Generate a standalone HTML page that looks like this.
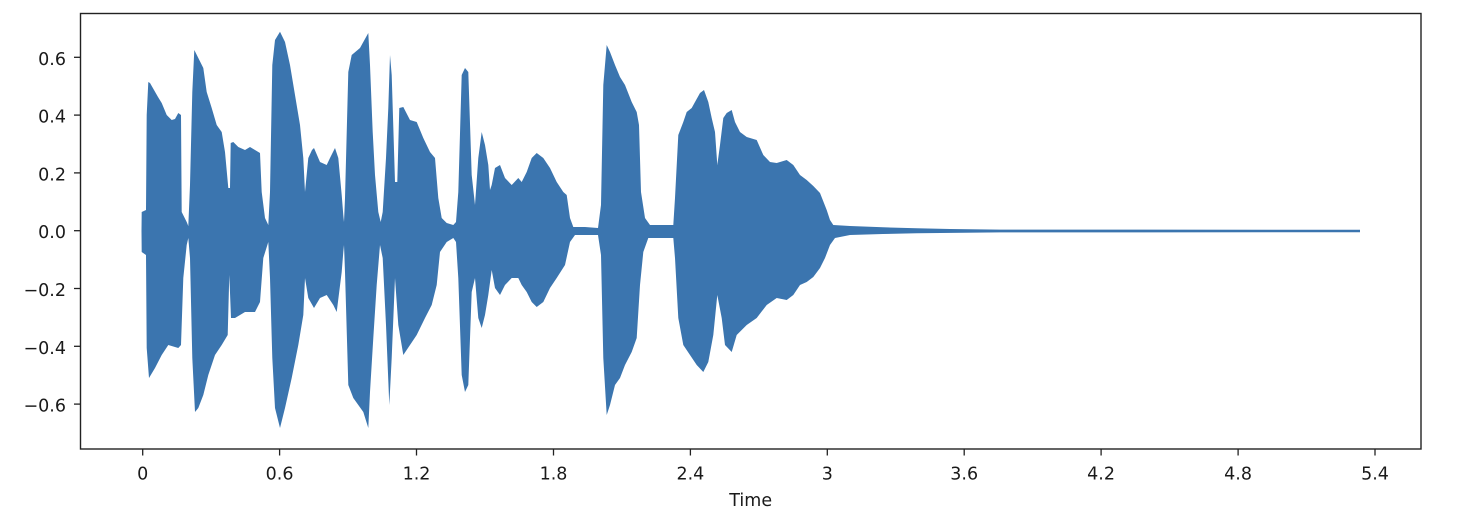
<!DOCTYPE html>
<html>
<head>
<meta charset="utf-8">
<style>
  html, body { margin: 0; padding: 0; background: #ffffff; }
  body { width: 1462px; height: 532px; overflow: hidden; }
  svg { display: block; }
  text { font-family: "DejaVu Sans", "Liberation Sans", sans-serif; font-size: 17.5px; fill: #1a1a1a; }
</style>
</head>
<body>
<svg width="1462" height="532" viewBox="0 0 1462 532" xmlns="http://www.w3.org/2000/svg">
  <rect x="0" y="0" width="1462" height="532" fill="#ffffff"/>

  <!-- waveform upper half -->
  <polygon fill="#3b75af" points="141.5,231 141.7,212 146,210 146.7,115 148.3,82 150,83 155,91.7 158,97 161.7,103 166.7,115 171.7,120 175,119 178.3,113 181,115 181.7,212 186.7,222 188.3,226 190,185 192.3,92 194.3,50 198.3,58 203.3,68 206.7,92 211.7,108 216.7,125 221.7,132 225,152 228.3,188 230,188 230.7,143 233.3,142 238.3,147 245,150 250,147 255,150 260,153 261.7,192 265,218 268.3,225 270,192 272.3,65 275,40 280,31.7 285,42 290,65 295,95 300,125 303.3,158 305,192 308.3,158 312,150 314,148 320,162 326.7,165 330,158 335,148 338.3,158 341.7,195 343.3,215 344,222 345,198 348.3,72 351.7,55 360,48 363.3,42 368.3,33 370,65 372.7,132 375,175 378.3,212 380.7,222 382.7,212 386,158 388.3,108 390,55 391.7,75 395,182 397.3,182 399.3,108 403.3,107 410,120 416.7,122 423.3,138 430,152 435,158 438.3,198 441.7,218 446.7,223 453.3,225 456,222 458.3,192 461.7,75 465,68 468.3,72 471.7,175 475,205 478.3,158 481.7,132 485,145 488.3,165 490,190 491.7,185 495,168 500,165 505,178 511.7,185 518.3,178 521.7,182 526.7,172 531.7,158 536.7,153 543.3,158 550,168 556.7,182 563.3,192 566.7,195 570,218 573.3,227 585,227 598,228 601,205 603.3,85 606.7,45 610,52 615,65 620,77 625,85 631.7,102 636.7,112 639,125 641,192 645,218 650,225 673.3,225 675,198 678.3,135 683.3,122 686.7,112 691.7,108 695,102 700,93 704,90 708.3,102 711.7,118 715,132 717.3,165 720,145 723.3,118 726.7,113 731.7,110 735,122 740,132 746.7,137 756.7,140 763.3,155 770,162 776.7,163 786.7,160 793.3,165 800,175 806.7,180 813.3,186 820,193 826.7,210 830,220 833.3,225 850,226 883,227.3 916.7,228.3 950,229 1000,229.6 1360,229.8 1360,231.5 141.5,231.5"/>

  <!-- waveform lower half -->
  <polygon fill="#3b75af" points="141.5,231 141.7,252 146,255 146.7,348 149,378 155,368 161.7,355 168.3,345 178.3,348 181,345 183.3,278 186.7,245 188.3,238 190,258 192.3,358 195,412 198.3,408 203.3,395 208.3,375 215,355 221.7,345 227.7,335 229.3,275 231,318 235,318 245,312 255,312 260,302 263.3,258 268.3,242 270,278 272.3,358 275,408 280,428 285,408 291.7,378 298.3,345 303.3,315 305,278 308.3,298 314,308 320,298 326.7,295 333.3,305 336.7,312 341.7,272 343.3,252 344,245 345,272 348.3,385 353.3,398 363.3,412 368.3,428 370,392 373.3,338 376.7,285 380,245 382.7,258 386,325 389.3,405 391.7,358 395,278 398.3,325 403.3,355 410,345 416.7,335 425,318 431.7,305 436.7,285 440,252 446.7,242 453.3,238 456,242 458.3,278 461.7,375 465,392 468.3,385 471.7,292 475,278 478.3,318 481.7,328 485,315 488.3,295 491.7,270 495,288 500,295 505,285 511.7,278 518.3,278 521.7,285 526.7,292 531.7,302 536.7,307 543.3,302 550,288 556.7,278 565,265 570,242 575,235 598,235 601,255 603.3,358 606.7,415 610,405 615,385 620,378 625,365 631.7,352 636.7,338 640,285 643.3,252 648.3,238 673.3,238 675,258 678.3,318 683.3,345 690,355 696.7,365 703.3,372 708.3,362 713.3,335 717.3,295 721.7,318 725,345 731.7,352 736.7,335 746.7,325 756.7,318 766.7,305 776.7,298 786.7,300 793.3,295 800,285 806.7,282 813.3,277 820,268 825,258 830,245 835,238 850,235 883,234 916.7,233.3 1000,232.4 1360,232.2 1360,230.5 141.5,230.5"/>

  <!-- axes frame -->
  <rect x="80.5" y="13.5" width="1340.5" height="435.5" fill="none" stroke="#222" stroke-width="1.4"/>

  <!-- y ticks -->
  <g stroke="#222" stroke-width="1.3">
    <line x1="74" y1="57.3" x2="80.5" y2="57.3"/>
    <line x1="74" y1="115.1" x2="80.5" y2="115.1"/>
    <line x1="74" y1="172.9" x2="80.5" y2="172.9"/>
    <line x1="74" y1="230.7" x2="80.5" y2="230.7"/>
    <line x1="74" y1="288.5" x2="80.5" y2="288.5"/>
    <line x1="74" y1="346.3" x2="80.5" y2="346.3"/>
    <line x1="74" y1="404.1" x2="80.5" y2="404.1"/>
  </g>
  <g text-anchor="end">
    <text x="66" y="64.8">0.6</text>
    <text x="66" y="122.6">0.4</text>
    <text x="66" y="180.4">0.2</text>
    <text x="66" y="238.2">0.0</text>
    <text x="66" y="296">−0.2</text>
    <text x="66" y="353.8">−0.4</text>
    <text x="66" y="411.6">−0.6</text>
  </g>

  <!-- x ticks -->
  <g stroke="#222" stroke-width="1.3">
    <line x1="142.7" y1="449" x2="142.7" y2="455.5"/>
    <line x1="279.6" y1="449" x2="279.6" y2="455.5"/>
    <line x1="416.5" y1="449" x2="416.5" y2="455.5"/>
    <line x1="553.5" y1="449" x2="553.5" y2="455.5"/>
    <line x1="690.4" y1="449" x2="690.4" y2="455.5"/>
    <line x1="827.3" y1="449" x2="827.3" y2="455.5"/>
    <line x1="964.2" y1="449" x2="964.2" y2="455.5"/>
    <line x1="1101.1" y1="449" x2="1101.1" y2="455.5"/>
    <line x1="1238.1" y1="449" x2="1238.1" y2="455.5"/>
    <line x1="1375" y1="449" x2="1375" y2="455.5"/>
  </g>
  <g text-anchor="middle">
    <text x="142.7" y="479.5">0</text>
    <text x="279.6" y="479.5">0.6</text>
    <text x="416.5" y="479.5">1.2</text>
    <text x="553.5" y="479.5">1.8</text>
    <text x="690.4" y="479.5">2.4</text>
    <text x="827.3" y="479.5">3</text>
    <text x="964.2" y="479.5">3.6</text>
    <text x="1101.1" y="479.5">4.2</text>
    <text x="1238.1" y="479.5">4.8</text>
    <text x="1375" y="479.5">5.4</text>
  </g>

  <!-- x label -->
  <text x="750.7" y="506" text-anchor="middle">Time</text>
</svg>
</body>
</html>
